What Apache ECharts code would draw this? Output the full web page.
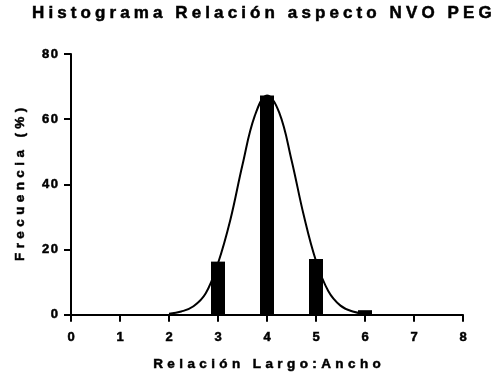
<!DOCTYPE html>
<html>
<head>
<meta charset="utf-8">
<script src="https://cdn.jsdelivr.net/npm/echarts@6/dist/echarts.min.js"></script>
<style>
  html, body { margin: 0; padding: 0; background: #fff; }
  #chart { width: 502px; height: 377px; }
</style>
</head>
<body>
<div id="chart"></div>
<script>
// Histogram bins (length:width ratio) and their frequencies in percent
const binCenters = [3, 4, 5, 6];
const frequencies = [16.3, 67.3, 17.1, 1.4];

// Fitted Gaussian curve, sampled every 0.25
const curveX = [2.0, 2.25, 2.5, 2.75, 3.0, 3.25, 3.5, 3.75, 4.0, 4.25, 4.5, 4.75, 5.0, 5.25, 5.5, 5.75, 6.0];
const curveY = [0.3, 1.0, 2.6, 6.6, 15.8, 29.0, 46.0, 61.0, 67.3, 62.0, 47.5, 30.5, 16.5, 7.3, 2.8, 1.0, 0.3];

// Axis ranges and tick steps
const xTicks = { min: 0, max: 8, step: 1 };
const yTicks = { min: 0, max: 80, step: 20 };

const FONT = 'Liberation Sans, Arial, sans-serif';

// Tracked (letter-spaced) lettering, keyed by font size in px
const TRACKING = { '17': 4.1, '13.5': 4.4, '13': 1.5 };
function applyTracking(ctx, x) {
  const m = /(\d+(?:\.\d+)?)px/.exec(ctx.font);
  const sp = (m && TRACKING[m[1]]) || 0;
  if ('letterSpacing' in ctx) {
    ctx.letterSpacing = sp + 'px';
    // trailing space after the last glyph would shift aligned text
    if (ctx.textAlign === 'center') x += sp / 2;
    else if (ctx.textAlign === 'right' || ctx.textAlign === 'end') x += sp;
  }
  return x;
}
['fillText', 'strokeText'].forEach(function (fn) {
  const native = CanvasRenderingContext2D.prototype[fn];
  CanvasRenderingContext2D.prototype[fn] = function (text, x, y, maxWidth) {
    x = applyTracking(this, x);
    return maxWidth === undefined
      ? native.call(this, text, x, y)
      : native.call(this, text, x, y, maxWidth);
  };
});

const chart = echarts.init(document.getElementById('chart'), null, { renderer: 'canvas' });

const textHeavy = { textBorderColor: '#000', textBorderWidth: 0.5 };

const axisCommon = {
  axisLine: { show: true, lineStyle: { color: '#000', width: 2 } },
  axisTick: { show: true, inside: false, length: 7, lineStyle: { color: '#000', width: 2 } },
  splitLine: { show: false },
  axisLabel: Object.assign({ color: '#000', fontFamily: FONT, fontWeight: 'bold', fontSize: 13 }, textHeavy),
  nameTextStyle: Object.assign({ color: '#000', fontFamily: FONT, fontWeight: 'bold', fontSize: 13.5 }, textHeavy)
};

chart.setOption({
  animation: false,
  backgroundColor: '#fff',
  title: {
    text: 'Histograma Relación aspecto NVO PEG',
    left: 32,
    top: 5,
    padding: 0,
    textStyle: Object.assign({ color: '#000', fontFamily: FONT, fontWeight: 'bold', fontSize: 17 }, textHeavy)
  },
  grid: { left: 71, right: 39, top: 54, bottom: 62, containLabel: false },
  xAxis: Object.assign({}, axisCommon, {
    type: 'value',
    min: xTicks.min,
    max: xTicks.max,
    interval: xTicks.step,
    name: 'Relación Largo:Ancho',
    nameLocation: 'middle',
    nameGap: 43,
    axisLabel: Object.assign({}, axisCommon.axisLabel, { margin: 16 })
  }),
  yAxis: Object.assign({}, axisCommon, {
    type: 'value',
    min: yTicks.min,
    max: yTicks.max,
    interval: yTicks.step,
    name: 'Frecuencia (%)',
    nameLocation: 'middle',
    nameGap: 44,
    axisLabel: Object.assign({}, axisCommon.axisLabel, { margin: 13 })
  }),
  series: [
    {
      type: 'bar',
      data: binCenters.map((c, i) => [c, frequencies[i]]),
      barWidth: 14,
      itemStyle: { color: '#000' },
      z: 2
    },
    {
      type: 'line',
      data: curveX.map((c, i) => [c, curveY[i]]),
      smooth: 0.4,
      showSymbol: false,
      symbol: 'none',
      lineStyle: { color: '#000', width: 2 },
      z: 3
    }
  ]
});
</script>
</body>
</html>
